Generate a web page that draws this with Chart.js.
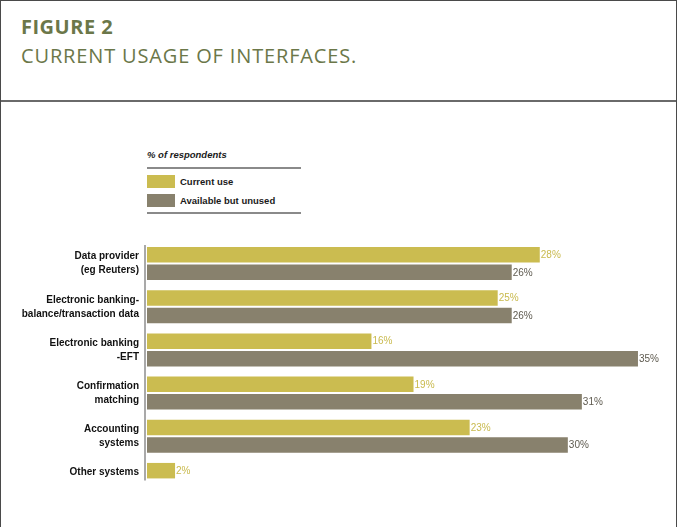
<!DOCTYPE html>
<html>
<head>
<meta charset="utf-8">
<script src="https://cdn.jsdelivr.net/npm/chart.js@4/dist/chart.umd.min.js"></script>
<style>
  html, body { margin:0; padding:0; background:#fff; }
  body { width:677px; height:527px; position:relative; overflow:hidden; }
  #frame { position:absolute; left:0; top:0; width:677px; height:527px; box-sizing:border-box;
           border:1px solid #4a4a4a; border-bottom:none; }
  #header { position:absolute; left:0; top:0; width:675px; height:99px; border-bottom:2px solid #6a6a6a; }
  .t1 { position:absolute; left:20px; top:12px; font-family:"Open Sans", sans-serif; font-weight:700;
        font-size:20px; color:#6b7749; letter-spacing:0.5px; }
  .t2 { position:absolute; left:20px; top:41px; font-family:"Open Sans", sans-serif; font-weight:400;
        font-size:20px; color:#6b7749; letter-spacing:0.85px; }
  #legend { position:absolute; left:147px; top:146px; width:154px; font-family:"Liberation Sans",Arial,sans-serif; font-size:9.5px; font-weight:700; color:#1a1a1a; }
  #legend .hd { position:absolute; left:0; top:3px; font-style:italic; white-space:nowrap; }
  #legend .ln { position:absolute; left:0; width:154px; height:2px; background:#8a8a8a; }
  #legend .sw { position:absolute; left:0; width:28px; height:13px; }
  #legend .lb { position:absolute; left:33px; white-space:nowrap; }
  #c { position:absolute; left:0; top:0; }
</style>
</head>
<body>
<div id="frame">
  <div id="header">
    <div class="t1">FIGURE 2</div>
    <div class="t2">CURRENT USAGE OF INTERFACES.</div>
  </div>
</div>
<div id="legend"></div>
<canvas id="c" width="677" height="527"></canvas>
<script>
const categories = [
  ["Data provider", "(eg Reuters)"],
  ["Electronic banking-", "balance/transaction data"],
  ["Electronic banking", "-EFT"],
  ["Confirmation", "matching"],
  ["Accounting", "systems"],
  ["Other systems", ""]
];
const seriesNames = ["Current use", "Available but unused"];
const currentUse = [28, 25, 16, 19, 23, 2];
const availableUnused = [26, 26, 35, 31, 30, null];
const legendTitle = "% of respondents";
const colors = ["#cbbc50", "#88816d"];
const labelColors = ["#c9ba4e", "#5e5a4f"];

// HTML legend
const lg = document.getElementById('legend');
lg.innerHTML =
  '<div class="hd">' + legendTitle + '</div>' +
  '<div class="ln" style="top:21px"></div>' +
  '<div class="sw" style="top:29px;background:' + colors[0] + '"></div>' +
  '<div class="lb" style="top:30px">' + seriesNames[0] + '</div>' +
  '<div class="sw" style="top:48px;background:' + colors[1] + '"></div>' +
  '<div class="lb" style="top:49px">' + seriesNames[1] + '</div>' +
  '<div class="ln" style="top:66px"></div>';

const valueLabels = {
  id: 'valueLabels',
  afterDatasetsDraw(chart) {
    const ctx = chart.ctx;
    ctx.save();
    ctx.font = '10px "Liberation Sans",Arial,sans-serif';
    ctx.textBaseline = 'middle';
    ctx.textAlign = 'left';
    chart.data.datasets.forEach((ds, i) => {
      const meta = chart.getDatasetMeta(i);
      meta.data.forEach((el, j) => {
        const v = ds.data[j];
        if (v === null || v === undefined) return;
        ctx.fillStyle = labelColors[i];
        ctx.fillText(v + '%', el.x + 1, el.y + 0.5);
      });
    });
    ctx.restore();
  }
};

const axisLine = {
  id: 'axisLine',
  afterDatasetsDraw(chart) {
    const ctx = chart.ctx;
    const x0 = chart.scales.x.getPixelForValue(0) - 2;
    const m0 = chart.getDatasetMeta(0).data;
    const first = m0[0], last = m0[m0.length - 1];
    const top = first.y - first.height / 2 - 2;
    const bottom = last.y + last.height / 2 + 2;
    ctx.save();
    ctx.strokeStyle = '#8c8c8c';
    ctx.lineWidth = 1.5;
    ctx.beginPath();
    ctx.moveTo(x0, top);
    ctx.lineTo(x0, bottom);
    ctx.stroke();
    ctx.restore();
  }
};

new Chart(document.getElementById('c'), {
  type: 'bar',
  data: {
    labels: categories,
    datasets: [
      { label: seriesNames[0], data: currentUse, backgroundColor: colors[0], categoryPercentage: 0.81, barPercentage: 0.886 },
      { label: seriesNames[1], data: availableUnused, backgroundColor: colors[1], categoryPercentage: 0.81, barPercentage: 0.886 }
    ]
  },
  options: {
    indexAxis: 'y',
    responsive: false,
    animation: false,
    events: [],
    layout: { padding: { left: 0, right: 25, top: 242, bottom: 26 } },
    plugins: { legend: { display: false }, tooltip: { enabled: false }, title: { display: false } },
    scales: {
      x: { display: false, min: 0, max: 36 },
      y: {
        grid: { display: false, drawTicks: false },
        border: { display: false },
        ticks: {
          padding: 8,
          color: '#111',
          font: { family: '"Liberation Sans",Arial,sans-serif', size: 10, weight: 'bold', lineHeight: 1.4 }
        },
        afterFit(scale) { scale.width = 147; }
      }
    }
  },
  plugins: [valueLabels, axisLine]
});
</script>
</body>
</html>
